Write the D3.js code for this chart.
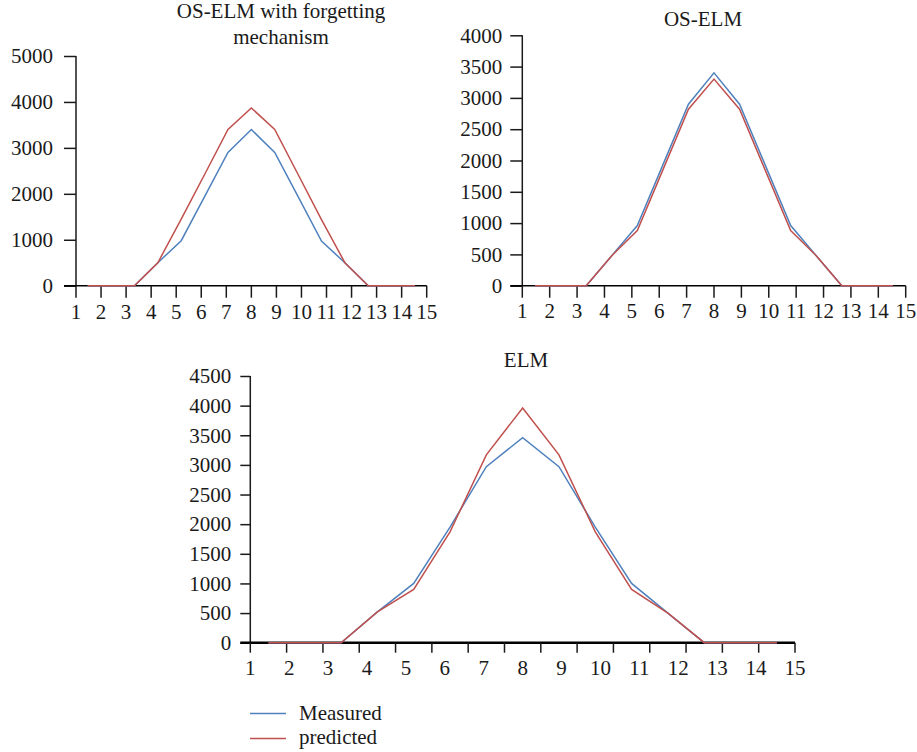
<!DOCTYPE html>
<html>
<head>
<meta charset="utf-8">
<script src="https://cdn.jsdelivr.net/npm/d3@7"></script>
<style>
  html, body { margin: 0; padding: 0; background: #fff; }
  svg { display: block; }
  text { font-family: "Liberation Serif", "Times New Roman", serif; fill: #1a1a1a; }
</style>
</head>
<body>
<svg id="chart" width="917" height="752"></svg>
<script>
// ---- data ----
const categories = [1, 2, 3, 4, 5, 6, 7, 8, 9, 10, 11, 12, 13, 14, 15];

const forgetMeasured  = [0, 0, 0, 500, 980, 1940, 2900, 3400, 2900, 1940, 970, 500, 0, 0, 0];
const forgetPredicted = [0, 0, 0, 500, 1450, 2420, 3400, 3870, 3400, 2420, 1440, 500, 0, 0, 0];

const oselmMeasured  = [0, 0, 0, 480, 960, 1930, 2900, 3400, 2900, 1930, 960, 480, 0, 0, 0];
const oselmPredicted = [0, 0, 0, 480, 880, 1850, 2820, 3300, 2820, 1850, 880, 480, 0, 0, 0];

const elmMeasured  = [0, 0, 0, 520, 1000, 1950, 2970, 3460, 2970, 1950, 1000, 500, 0, 0, 0];
const elmPredicted = [0, 0, 0, 520, 900, 1870, 3170, 3960, 3170, 1870, 900, 500, 0, 0, 0];

const forgetYTicks = [0, 1000, 2000, 3000, 4000, 5000];
const oselmYTicks  = [0, 500, 1000, 1500, 2000, 2500, 3000, 3500, 4000];
const elmYTicks    = [0, 500, 1000, 1500, 2000, 2500, 3000, 3500, 4000, 4500];

const seriesNames = ["Measured", "predicted"];
const colors = { measured: "#4f81bd", predicted: "#c0504d" };

const FONT = '"Liberation Serif", "Times New Roman", serif';
const svg = d3.select("#chart");

function drawPanel(cfg) {
  const g = svg.append("g");
  const x = d3.scaleBand().domain(categories).range([cfg.x0, cfg.x1]).paddingInner(0).paddingOuter(0);
  const xl = d3.scalePoint().domain(categories).range([cfg.x0, cfg.x1]);
  const y = d3.scaleLinear().domain([0, d3.max(cfg.yTicks)]).range([cfg.yBase, cfg.yTop]);

  // y axis
  const ya = g.append("g").attr("transform", `translate(${cfg.x0},0)`)
    .call(d3.axisLeft(y).tickValues(cfg.yTicks).tickSize(cfg.tick).tickPadding(cfg.yPad).tickFormat(d3.format("d")));
  ya.attr("font-family", null).attr("font-size", null);
  ya.select(".domain").remove();
  ya.selectAll(".tick line").attr("stroke", "#1a1a1a").attr("stroke-width", 1.5);
  ya.selectAll("text").style("font-size", cfg.fs + "px").attr("fill", "#1a1a1a")
    .style("font-family", FONT);
  g.append("line").attr("x1", cfg.x0).attr("x2", cfg.x0).attr("y1", y(0)).attr("y2", y(d3.max(cfg.yTicks)))
    .attr("stroke", "#1a1a1a").attr("stroke-width", 1.5);

  // x axis baseline
  g.append("line").attr("x1", cfg.x0 - cfg.tick).attr("x2", cfg.x1).attr("y1", y(0)).attr("y2", y(0))
    .attr("stroke", "#000").attr("stroke-width", cfg.xAxisW);

  // x ticks
  let tickPos;
  if (cfg.bandTicks) {
    tickPos = categories.map(c => x(c)).concat([x(categories[categories.length - 1]) + x.bandwidth()]);
  } else {
    tickPos = categories.map(c => xl(c));
  }
  g.selectAll(null).data(tickPos).enter().append("line")
    .attr("x1", d => d).attr("x2", d => d).attr("y1", y(0)).attr("y2", y(0) + cfg.tick)
    .attr("stroke", "#1a1a1a").attr("stroke-width", 1.5);

  // x labels
  g.selectAll(null).data(categories).enter().append("text")
    .attr("x", d => xl(d)).attr("y", cfg.xLabelY).attr("text-anchor", "middle")
    .style("font-size", cfg.fs + "px").style("font-family", FONT).text(d => d);

  // lines
  const line = d3.line().x((d, i) => x(categories[i]) + x.bandwidth() / 2).y(d => y(d));
  g.append("path").datum(cfg.measured).attr("d", line).attr("fill", "none")
    .attr("stroke", colors.measured).attr("stroke-width", 1.5);
  g.append("path").datum(cfg.predicted).attr("d", line).attr("fill", "none")
    .attr("stroke", colors.predicted).attr("stroke-width", 1.5);

  // title
  cfg.title.forEach((t, i) => {
    g.append("text").attr("x", cfg.titleX).attr("y", cfg.titleY + i * 26)
      .attr("text-anchor", "middle").style("font-size", cfg.fs + "px").style("font-family", FONT).text(t);
  });
}

drawPanel({
  x0: 76, x1: 426.7, yBase: 285.7, yTop: 56, yTicks: forgetYTicks, tick: 12, yPad: 11,
  xAxisW: 1.6, bandTicks: false, xLabelY: 319, fs: 21,
  measured: forgetMeasured, predicted: forgetPredicted,
  title: ["OS-ELM with forgetting", "mechanism"], titleX: 281, titleY: 18
});

drawPanel({
  x0: 522.3, x1: 905.7, yBase: 285.7, yTop: 35.3, yTicks: oselmYTicks, tick: 12, yPad: 8,
  xAxisW: 1.6, bandTicks: false, xLabelY: 318, fs: 21,
  measured: oselmMeasured, predicted: oselmPredicted,
  title: ["OS-ELM"], titleX: 703, titleY: 26
});

drawPanel({
  x0: 250.3, x1: 795, yBase: 642.7, yTop: 376, yTicks: elmYTicks, tick: 10, yPad: 9,
  xAxisW: 2.6, bandTicks: true, xLabelY: 675, fs: 21,
  measured: elmMeasured, predicted: elmPredicted,
  title: ["ELM"], titleX: 526, titleY: 367
});

// legend
const legend = svg.append("g");
const legendItems = [
  { name: seriesNames[0], color: colors.measured, y: 713.5, ty: 719.5 },
  { name: seriesNames[1], color: colors.predicted, y: 738.5, ty: 743.5 }
];
legendItems.forEach(it => {
  legend.append("line").attr("x1", 250).attr("x2", 286).attr("y1", it.y).attr("y2", it.y)
    .attr("stroke", it.color).attr("stroke-width", 1.5);
  legend.append("text").attr("x", 299).attr("y", it.ty).style("font-size", "21px")
    .style("font-family", FONT).text(it.name);
});
</script>
</body>
</html>
